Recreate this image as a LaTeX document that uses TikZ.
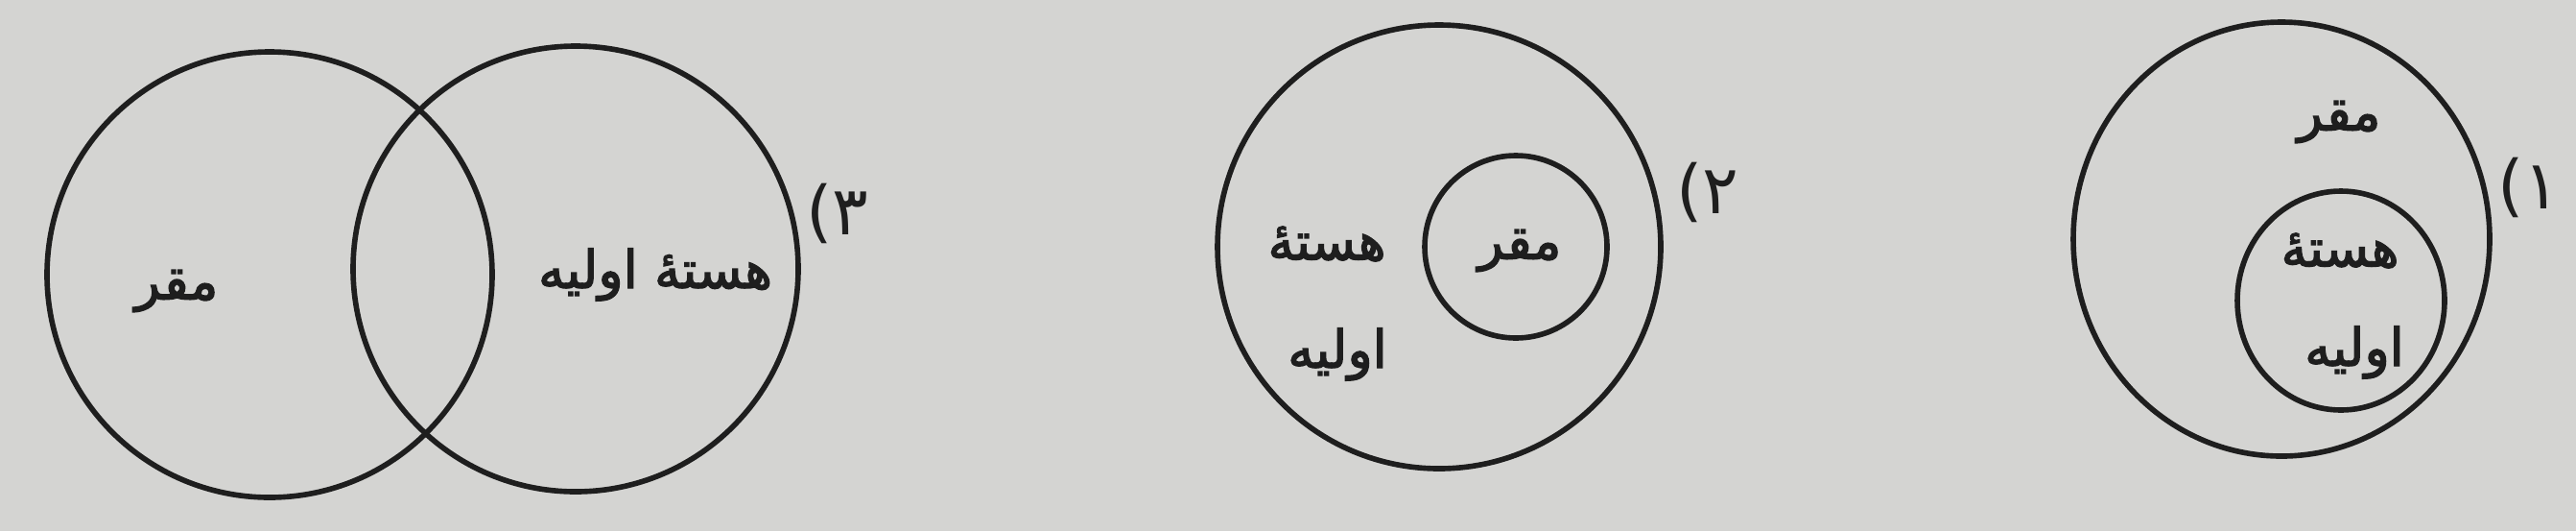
\documentclass[tikz,border=0pt]{standalone}
\usepackage{fontspec}
\newfontfamily\arabicfont[Script=Arabic, BoldFont={DejaVu Sans}, BoldFeatures={FakeBold=2.5}]{DejaVu Sans}
\newfontfamily\plainfont{DejaVu Sans}
\TeXXeTstate=1
\definecolor{paper}{RGB}{212,212,210}
\definecolor{ink}{RGB}{30,30,30}
\newcommand{\optnum}[1]{{\plainfont(}{\arabicfont\mdseries #1}}
\begin{document}
\begin{tikzpicture}[
  ring/.style={draw=ink, line width=1.6pt},
  lbl/.style={font=\arabicfont\bfseries\fontsize{15.5}{18}\selectfont, text=ink, inner sep=0pt},
  num/.style={font=\fontsize{20}{24}\selectfont, text=ink, inner sep=0pt}
]
\fill[paper] (0,0) rectangle (26.85,5.53);
\useasboundingbox (0,0) rectangle (26.85,5.53);
% Diagram 3
\coordinate (c3a) at (2.81,2.67);
\coordinate (c3b) at (6.00,2.73);
\draw[ring] (c3a) circle[radius=2.32cm];
\draw[ring] (c3b) circle[radius=2.32cm];
\node[lbl] (t3a) at (1.84,2.50) {\beginR مقر\endR};
\node[lbl] (t3b) at (6.83,2.67) {\beginR هستهٔ اولیه\endR};
\node[num] (n3) at (8.73,3.31) {\optnum{۳}};
% Diagram 2
\coordinate (c2o) at (15.00,2.96);
\coordinate (c2i) at (15.80,2.96);
\draw[ring] (c2o) circle[radius=2.31cm];
\draw[ring] (c2i) circle[radius=0.95cm];
\node[lbl] (t2a) at (15.84,2.92) {\beginR مقر\endR};
\node[lbl] (t2b) at (13.83,2.99) {\beginR هستهٔ\endR};
\node[lbl] (t2c) at (13.94,1.84) {\beginR اولیه\endR};
\node[num] (n2) at (17.80,3.53) {\optnum{۲}};
% Diagram 1
\coordinate (c1o) at (23.78,3.04);
\coordinate (c1i) at (24.40,2.40);
\draw[ring] (c1o) ellipse[x radius=2.17cm, y radius=2.26cm];
\draw[ring] (c1i) ellipse[x radius=1.08cm, y radius=1.14cm];
\node[lbl] (t1a) at (24.38,4.26) {\beginR مقر\endR};
\node[lbl] (t1b) at (24.39,2.92) {\beginR هستهٔ\endR};
\node[lbl] (t1c) at (24.54,1.86) {\beginR اولیه\endR};
\node[num] (n1) at (26.36,3.58) {\optnum{۱}};
\end{tikzpicture}
\end{document}
